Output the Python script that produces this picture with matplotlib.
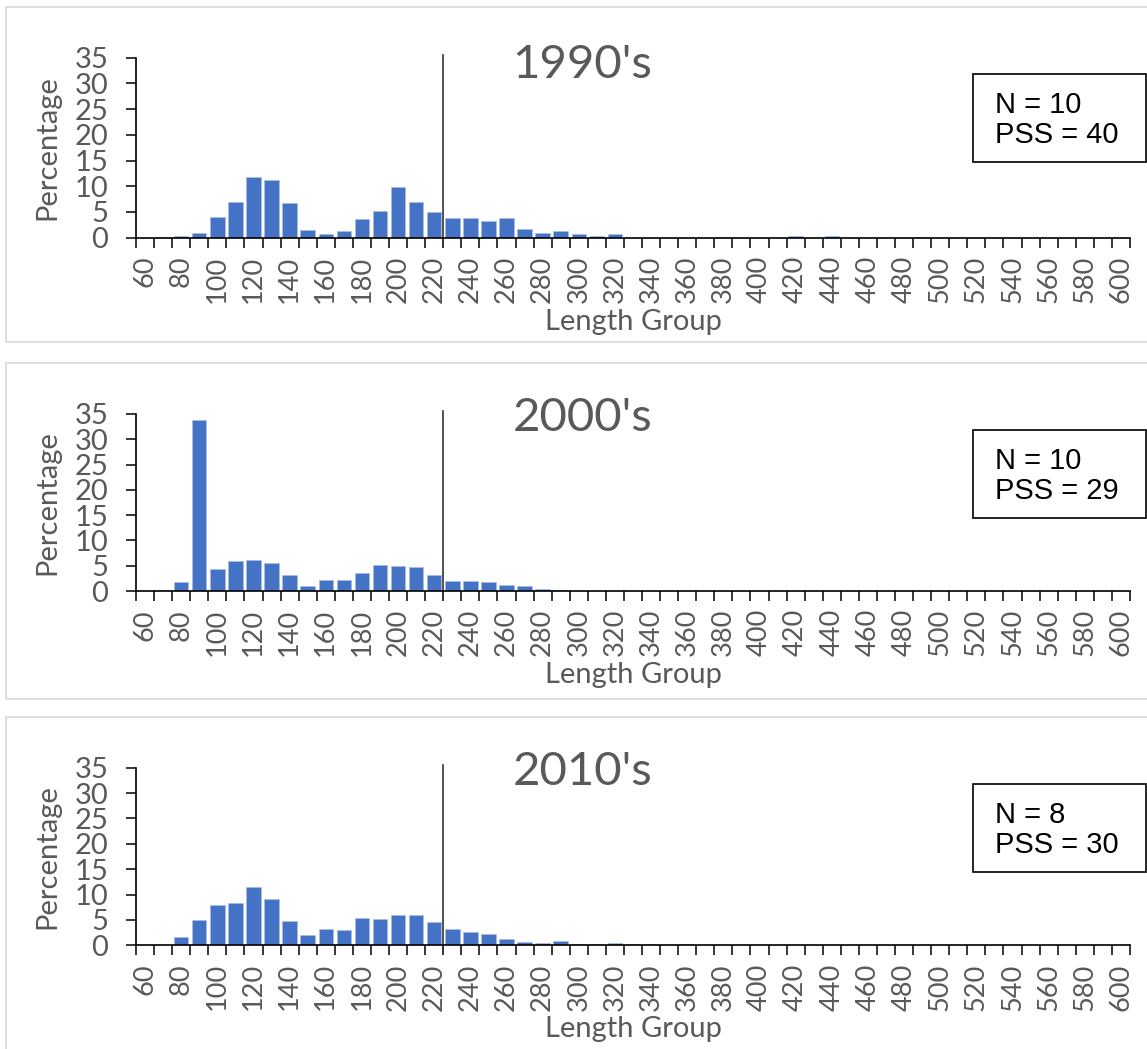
import numpy as np
import matplotlib
matplotlib.use("Agg")
from matplotlib import pyplot as plt
from matplotlib.patches import Rectangle
import matplotlib.transforms as mtransforms

plt.rcParams['font.family'] = ['Lato', 'DejaVu Sans']

# length groups 60..600 in steps of 10
length_groups = list(range(60, 610, 10))

pct_1990 = [0, 0.05, 0.3, 1.0, 4.0, 6.9, 11.8, 11.3, 6.7, 1.5,
            0.7, 1.3, 3.7, 5.1, 9.8, 6.9, 5.0, 3.8, 3.8, 3.3,
            3.8, 1.6, 1.0, 1.3, 0.65, 0.3, 0.65, 0, 0, 0,
            0, 0, 0.1, 0, 0, 0, 0.25, 0, 0.25, 0,
            0, 0, 0, 0.1, 0, 0, 0, 0, 0, 0,
            0, 0, 0, 0, 0]
pct_2000 = [0, 0.15, 1.8, 33.9, 4.35, 5.9, 6.1, 5.6, 3.2, 1.05,
            2.25, 2.1, 3.6, 5.1, 4.95, 4.7, 3.15, 1.9, 2.05, 1.7,
            1.1, 1.0, 0.35, 0.2, 0.05, 0.05, 0.05, 0.05, 0.05, 0.05,
            0.05, 0.05, 0, 0, 0, 0, 0, 0, 0, 0,
            0, 0, 0, 0, 0, 0, 0, 0, 0, 0,
            0, 0, 0, 0, 0]
pct_2010 = [0, 0, 1.7, 5.0, 8.0, 8.3, 11.4, 9.1, 4.8, 2.0,
            3.2, 3.0, 5.4, 5.2, 6.0, 6.0, 4.5, 3.15, 2.7, 2.3,
            1.3, 0.6, 0.45, 0.9, 0.3, 0.3, 0.45, 0.2, 0.3, 0,
            0.2, 0, 0, 0, 0, 0, 0, 0, 0, 0,
            0, 0, 0, 0, 0, 0, 0, 0, 0, 0,
            0, 0, 0, 0, 0]

decades = ["1990's", "2000's", "2010's"]
series = [pct_1990, pct_2000, pct_2010]
n_vals = [10, 10, 8]
pss_vals = [40, 29, 30]
cutoff = 220  # reference line after this length group

W, H = 1147, 1049
fig = plt.figure(figsize=(W / 100, H / 100), dpi=100)

def fx(x):
    return x / W

def fy(y):
    return 1 - y / H

# pixel geometry of each panel: (axes top, axes bottom, frame top, frame bottom)
panels = [(57.7, 237.7, 7, 342), (414, 591, 363, 699), (767.7, 945.3, 717, 1070)]
offsets = [0, 356, 710]
grey = '#595959'
fs = 21
x = np.arange(len(length_groups))

for i in range(3):
    top, bot, ftop, fbot = panels[i]
    hpx = bot - top

    fig.patches.append(Rectangle((fx(6), fy(fbot)), fx(1300), (fbot - ftop) / H,
                                 transform=fig.transFigure, fill=False,
                                 edgecolor='#d9d9d9', linewidth=1.2))

    ax = fig.add_axes([fx(136), fy(bot), fx(994), hpx / H])
    ax.bar(x, series[i], width=0.8, color='#4472C4', edgecolor='#a9bfe6', linewidth=0.4)
    ax.set_xlim(-0.5, len(length_groups) - 0.5)
    ax.set_ylim(0, 35)
    for s in ['top', 'right']:
        ax.spines[s].set_visible(False)
    for s in ['left', 'bottom']:
        ax.spines[s].set_linewidth(1.2)
        ax.spines[s].set_color('black')

    ax.set_xticks(np.arange(-0.5, len(length_groups), 1))
    ax.set_xticklabels([])
    ax.set_xticks(x[::2], minor=True)
    ax.set_xticklabels([str(v) for v in length_groups[::2]], minor=True, rotation=90)
    ax.tick_params(axis='x', which='major', length=7, width=1.1, color='black')
    ax.tick_params(axis='x', which='minor', length=0, pad=13, labelsize=19.5, labelcolor=grey)
    ax.set_yticks(range(0, 36, 5))
    ax.tick_params(axis='y', length=7, width=1.1, color='black', pad=13,
                   labelsize=fs, labelcolor=grey)

    ax.set_ylabel('Percentage', fontsize=fs, color=grey)
    ax.yaxis.set_label_coords(-0.076, 0.5)
    ax.set_xlabel('Length Group', fontsize=fs, color=grey)
    ax.xaxis.set_label_coords(0.5, -71 / hpx)

    # title sits inside the plot area, left of centre
    ax.text(0.449, 160 / hpx, decades[i], transform=ax.transAxes, ha='center',
            va='baseline', fontsize=34, color=grey)

    trans = mtransforms.blended_transform_factory(ax.transData, ax.transAxes)
    xc = length_groups.index(cutoff) + 0.5
    ax.plot([xc, xc], [-7 / hpx, 1 + 3 / hpx], transform=trans, color='#333333',
            linewidth=1.2, clip_on=False)

    off = offsets[i]
    fig.patches.append(Rectangle((fx(973), fy(162 + off)), fx(1146 - 973), 88 / H,
                                 transform=fig.transFigure, fill=False,
                                 edgecolor='black', linewidth=1.2))
    fig.text(fx(995), fy(113.3 + off), 'N = %d' % n_vals[i], fontsize=21,
             family='Liberation Sans', va='baseline')
    fig.text(fx(995), fy(143.3 + off), 'PSS = %d' % pss_vals[i], fontsize=21,
             family='Liberation Sans', va='baseline')

fig.savefig('out.png', dpi=100)
